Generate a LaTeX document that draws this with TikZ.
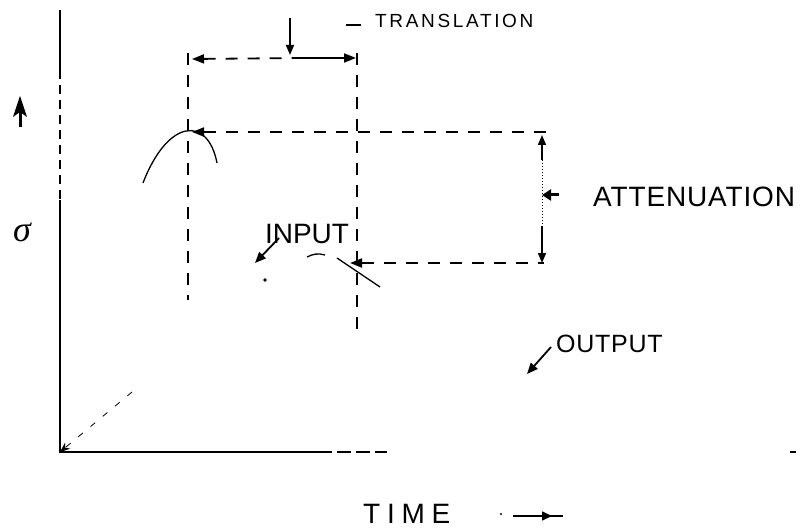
\documentclass[tikz,border=0pt]{standalone}
\usepackage{fontspec}
\setmainfont{Liberation Sans}
\newfontfamily\greekfont{Liberation Serif}
\usetikzlibrary{arrows.meta}
\begin{document}
\begin{tikzpicture}[x=1pt,y=-1pt,
  axis/.style={line width=2.2pt},
  guide/.style={line width=1.8pt, dash pattern=on 12pt off 10pt},
  curve/.style={line width=1.3pt},
  lbl/.style={inner sep=0pt, font=\fontsize{28}{30}\selectfont},
  tip/.style={-{Triangle[length=10pt,width=8pt]}},
]
\useasboundingbox (0,0) rectangle (805,529);
% coordinates
\coordinate (ytop) at (60,10);
\coordinate (yb1) at (60,70);
\coordinate (yb2) at (60,200);
\coordinate (o) at (60,452);
\coordinate (xs) at (318,452);
\coordinate (xend) at (387,452);
\coordinate (od) at (132,392);
\coordinate (t1) at (790,452);
\coordinate (t2) at (796,452);
\coordinate (v1t) at (188,53);
\coordinate (v1b) at (188,300);
\coordinate (v2t) at (357,53);
\coordinate (v2b) at (357,333);
\coordinate (trL) at (192,59);
\coordinate (trM) at (300,58);
\coordinate (trR) at (356,58);
\coordinate (dn1) at (290,18);
\coordinate (dn2) at (290,55);
\coordinate (dsh1) at (346,25);
\coordinate (dsh2) at (361,25);
\coordinate (peak) at (192,132);
\coordinate (mR) at (552,132);
\coordinate (atU) at (542,135);
\coordinate (atU2) at (542,160);
\coordinate (atD2) at (542,226);
\coordinate (atD) at (542,263);
\coordinate (bL) at (350,263);
\coordinate (bR) at (544,263);
\coordinate (aa1) at (559,195);
\coordinate (aa2) at (542,195);
\coordinate (ia1) at (279,238);
\coordinate (ia2) at (255,263);
\coordinate (oa1) at (551,347);
\coordinate (oa2) at (527,374);
\coordinate (ta1) at (513,516);
\coordinate (ta2) at (552,516);
\coordinate (ta3) at (563,516);

% axes
\draw[axis] (ytop) -- (yb1);
\draw[axis, dash pattern=on 9pt off 6pt] (yb1) -- (yb2);
\draw[axis] (yb2) -- (o) -- (xs);
\draw[line width=1.4pt, dash pattern=on 14pt off 5pt] (xs) -- (xend);
\draw[line width=1.4pt] (t1) -- (t2);
\draw[line width=0.8pt, dash pattern=on 6pt off 10pt, -{Stealth[length=10pt,width=8pt]}] (od) -- (o);

% y-axis labels
\draw[line width=3pt] (20,127) -- (20,110);
\fill (20,96) -- (27,117) -- (20,112) -- (13,117) -- cycle;
\node[inner sep=0pt] (sig) at (22,232) {\fontsize{36}{38}\selectfont\greekfont\itshape σ};

% guides
\draw[guide] (v1t) -- (v1b);
\draw[guide] (v2t) -- (v2b);
\draw[guide, {Triangle[length=12pt,width=9pt]}-] (trL) -- (trM);
\draw[line width=1.8pt, -{Triangle[length=12pt,width=9pt]}] (trM) -- (trR);
\draw[line width=1.6pt, tip] (dn1) -- (dn2);
\draw[line width=1.6pt] (dsh1) -- (dsh2);
\node[inner sep=0pt, anchor=west, font=\fontsize{19}{21}\selectfont\addfontfeature{LetterSpace=14}] (trans) at (375,21) {TRANSLATION};

\draw[guide, {Triangle[length=12pt,width=9pt]}-] (peak) -- (mR);
\draw[line width=1.6pt, tip] (atU2) -- (atU);
\draw[line width=1pt, dotted] (atU2) -- (atD2);
\draw[line width=1.6pt, tip] (atD2) -- (atD);
\draw[guide, {Triangle[length=12pt,width=9pt]}-] (bL) -- (bR);
\draw[line width=3pt, -{Triangle[length=9pt,width=11pt]}] (aa1) -- (aa2);
\node[lbl, anchor=west, font=\fontsize{28}{30}\selectfont\addfontfeature{LetterSpace=3}] (atten) at (593,197) {ATTENUATION};

% pulses
\draw[curve] (143,183) .. controls (168,118) and (208,116) .. (217,163);
\draw[curve] (307,257) .. controls (313,254) and (318,253) .. (325,255);
\draw[curve] (337,258) -- (380,287);

% input / output labels
\node[lbl] (input) at (307,234) {INPUT};
\draw[line width=1.8pt, -{Triangle[length=11pt,width=9pt]}] (ia1) -- (ia2);
\fill (265,280) circle (1.8);
\node[lbl, anchor=west, font=\fontsize{25}{27}\selectfont\addfontfeature{LetterSpace=3}] (output) at (556,344) {OUTPUT};
\draw[line width=1.8pt, -{Triangle[length=11pt,width=9pt]}] (oa1) -- (oa2);

% time
\node[lbl, anchor=west, font=\fontsize{28}{30}\selectfont\addfontfeature{LetterSpace=24}] (time) at (363,514) {TIME};
\fill (501,514) circle (1.2);
\draw[line width=1.6pt] (ta1) -- (ta3);
\draw[line width=1.6pt, -{Triangle[length=10pt,width=9pt]}] (ta1) -- (ta2);
\end{tikzpicture}
\end{document}
